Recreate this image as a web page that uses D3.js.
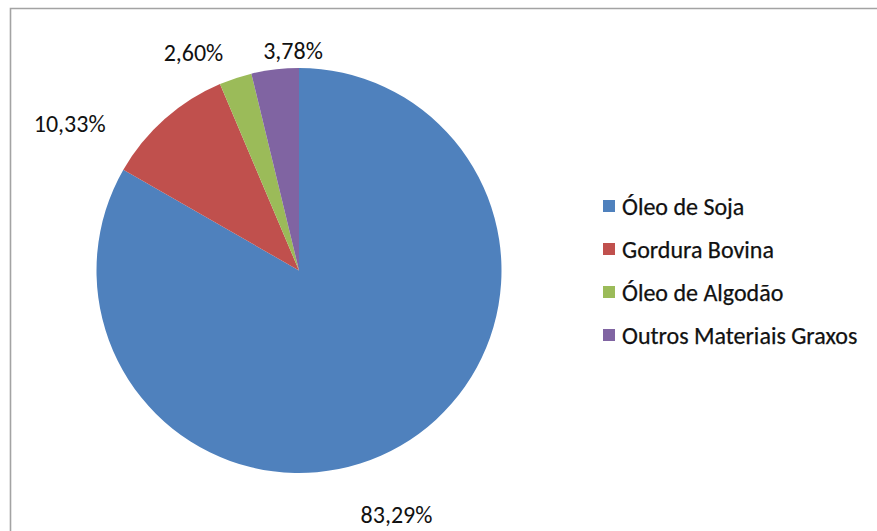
<!DOCTYPE html>
<html>
<head>
<meta charset="utf-8">
<script src="https://cdn.jsdelivr.net/npm/d3@7"></script>
<style>
  html, body { margin: 0; padding: 0; background: #fff; overflow: hidden; }
  svg { display: block; }
  text { font-family: Carlito, Calibri, Lato, "Open Sans", sans-serif; fill: #111; }
</style>
</head>
<body>
<svg id="chart" width="877" height="531"></svg>
<script>
// Matérias-primas e participação (%)
const categories = ["Óleo de Soja", "Gordura Bovina", "Óleo de Algodão", "Outros Materiais Graxos"];
const shares = [83.29, 10.33, 2.60, 3.78];
const valueLabels = ["83,29%", "10,33%", "2,60%", "3,78%"];
const sliceColors = ["#4f81bd", "#c0504d", "#9bbb59", "#8064a2"];

const W = 877, H = 531;
const svg = d3.select("#chart");

// chart area frame (runs past the right and bottom edges)
svg.append("path")
  .attr("d", `M10.5,${H + 5}V8.5H${W + 5}`)
  .attr("fill", "none")
  .attr("stroke", "#a3a3a3")
  .attr("stroke-width", 1.6);

const cx = 299, cy = 270.5, radius = 202.5;

const pie = d3.pie().sort(null).value(d => d.value).startAngle(0).endAngle(2 * Math.PI);
const data = categories.map((c, i) => ({ name: c, value: shares[i], label: valueLabels[i], color: sliceColors[i] }));
const arcs = pie(data);
const arc = d3.arc().innerRadius(0).outerRadius(radius);

const g = svg.append("g").attr("transform", `translate(${cx},${cy})`);

g.selectAll("path.slice")
  .data(arcs)
  .join("path")
  .attr("class", "slice")
  .attr("d", arc)
  .attr("fill", d => d.data.color)
  .attr("stroke", "none");

// value labels: anchored on the slice's outer edge, shifted outward like the spreadsheet's "outside end" layout
const labelShift = {
  "Óleo de Soja": [-4, 69],
  "Gordura Bovina": [-95, 5],
  "Óleo de Algodão": [-42, -26],
  "Outros Materiais Graxos": [18, -19]
};
const edge = d3.arc().innerRadius(radius).outerRadius(radius);
g.selectAll("text.val")
  .data(arcs)
  .join("text")
  .attr("class", "val")
  .attr("x", d => edge.centroid(d)[0] + labelShift[d.data.name][0])
  .attr("y", d => edge.centroid(d)[1] + labelShift[d.data.name][1])
  .attr("text-anchor", "middle")
  .attr("dominant-baseline", "central")
  .attr("font-size", 24)
  .text(d => d.data.label);

// legend
const legendY = d3.scalePoint().domain(categories).range([206, 335]);
const legend = svg.append("g");
const items = legend.selectAll("g.item")
  .data(data)
  .join("g")
  .attr("class", "item")
  .attr("transform", d => `translate(603,${legendY(d.name)})`);
items.append("rect")
  .attr("x", 0).attr("y", -6)
  .attr("width", 12).attr("height", 12)
  .attr("fill", d => d.color);
items.append("text")
  .attr("x", 19).attr("y", 0)
  .attr("dominant-baseline", "central")
  .attr("font-size", 24)
  .attr("stroke", "#111")
  .attr("stroke-width", 0.25)
  .text(d => d.name);
</script>
</body>
</html>
